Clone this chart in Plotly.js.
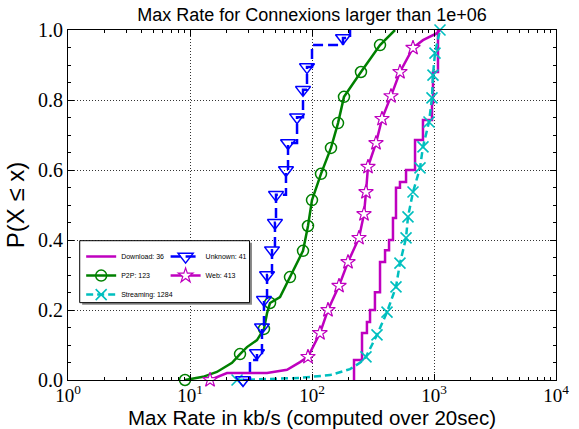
<!DOCTYPE html>
<html><head><meta charset="utf-8">
<script src="https://cdn.plot.ly/plotly-3.0.1.min.js"></script>
<style>html,body{margin:0;padding:0;background:#fff}#chart{width:579px;height:429px}</style>
</head><body><div id="chart"></div>
<script>
const titleText = 'Max Rate for Connexions larger than 1e+06';
const xTitle = 'Max Rate in kb/s (computed over 20sec)';
const yTitle = 'P(X ≤ x)';
const seriesNames = ['Download: 36', 'P2P: 123', 'Streaming: 1284', 'Unknown: 41', 'Web: 413'];
const xTickVals = [1, 10, 100, 1000, 10000];
const xTickText = ['10<sup>0</sup>', '10<sup>1</sup>', '10<sup>2</sup>', '10<sup>3</sup>', '10<sup>4</sup>'];
const yTickVals = [0, 0.2, 0.4, 0.6, 0.8, 1.0];
const yTickText = ['0.0', '0.2', '0.4', '0.6', '0.8', '1.0'];

// Download: step CDF, no markers
const downloadX = [221, 221, 257, 282, 299, 328, 361, 397, 428, 461, 488, 526, 590, 699, 812, 963, 981, 1078];
const downloadP = [0, 0.057, 0.134, 0.166, 0.20, 0.251, 0.337, 0.371, 0.40, 0.463, 0.549, 0.566, 0.60, 0.686, 0.743, 0.791, 0.88, 1.0];

// P2P
const p2pLineX = [12.8, 16.6, 22.1, 29.3, 35.4, 42.8, 54.7, 60.1, 75.4, 479];
const p2pLineP = [0.009, 0.023, 0.049, 0.094, 0.114, 0.191, 0.237, 0.266, 0.334, 1.0];
const p2pMarkX = [9.1, 25.7, 40.4, 45.3, 66.0, 84.4, 92.7, 100, 118.5, 143.1, 163.4, 182.9, 252, 361];
const p2pMarkP = [0, 0.074, 0.146, 0.22, 0.294, 0.369, 0.44, 0.514, 0.589, 0.663, 0.734, 0.809, 0.88, 0.957];

// Streaming
const streamLineX = [79.7, 140.5, 205, 247];
const streamLineP = [0.006, 0.014, 0.031, 0.049];
const streamMarkX = [24.3, 277, 341, 412, 488, 526, 590, 612, 673, 768, 812, 910, 963, 981, 1019, 1120];
const streamMarkP = [0, 0.066, 0.129, 0.194, 0.266, 0.334, 0.406, 0.466, 0.537, 0.606, 0.666, 0.737, 0.806, 0.871, 0.934, 1.0];

// Unknown: step CDF
const unknownLineX = [31.0, 100, 205];
const unknownLineP = [0.057, 0.957, 1.0];
const unknownMarkX = [27.2, 35.4, 38.9, 40.4, 42.8, 47.0, 49.7, 50.7, 61.2, 63.6, 75.4, 84.4, 91.0, 179.5];
const unknownMarkP = [0, 0.077, 0.151, 0.229, 0.30, 0.371, 0.449, 0.529, 0.60, 0.677, 0.751, 0.829, 0.894, 0.977];

// Web
const webLineX = [20.1, 42.8, 62.4, 79.7, 812, 1058, 1120];
const webLineP = [0.02, 0.02, 0.029, 0.051, 0.971, 0.991, 1.0];
const webMarkX = [14.6, 92.7, 116.3, 135.2, 166.5, 197.3, 242.7, 266.8, 277.1, 287.7, 334.6, 374.8, 444.1, 526, 672.9];
const webMarkP = [0, 0.066, 0.134, 0.20, 0.269, 0.337, 0.406, 0.474, 0.537, 0.609, 0.677, 0.746, 0.811, 0.88, 0.949];

function merge(lx, lp, mx, mp) {
  const pts = [];
  lx.forEach((x, i) => pts.push({x: x, p: lp[i], m: false}));
  mx.forEach((x, i) => pts.push({x: x, p: mp[i], m: true}));
  pts.sort((a, b) => (a.p - b.p) || (a.x - b.x));
  return pts;
}
const NONE = 'rgba(0,0,0,0)';
function markerTrace(name, pts, s, legendId) {
  return {
    type: 'scatter', mode: 'lines+markers', name: name, legend: legendId,
    x: pts.map(p => p.x), y: pts.map(p => p.p),
    line: {color: s.color, width: 2.5, dash: s.dash, shape: s.shape},
    marker: {
      symbol: s.symbol, size: s.size,
      color: pts.map(p => p.m ? s.fill : NONE),
      line: {color: pts.map(p => p.m ? s.color : NONE), width: s.mlw}
    },
    cliponaxis: false, hoverinfo: 'skip'
  };
}

const MAG = '#bf00bf', GRN = '#008000', CYN = '#00bfbf', BLU = '#0000ff';
const traces = [
  {type: 'scatter', mode: 'lines', name: seriesNames[0], legend: 'legend',
   x: downloadX, y: downloadP, line: {color: MAG, width: 2.5, shape: 'hv'}, hoverinfo: 'skip'},
  markerTrace(seriesNames[1], merge(p2pLineX, p2pLineP, p2pMarkX, p2pMarkP),
    {color: GRN, fill: GRN, dash: 'solid', shape: 'linear', symbol: 'circle-open', size: 11, mlw: 1.5}, 'legend'),
  markerTrace(seriesNames[2], merge(streamLineX, streamLineP, streamMarkX, streamMarkP),
    {color: CYN, fill: CYN, dash: '7px,4px', shape: 'linear', symbol: 'x-thin-open', size: 11, mlw: 1.6}, 'legend'),
  markerTrace(seriesNames[3], merge(unknownLineX, unknownLineP, unknownMarkX, unknownMarkP),
    {color: BLU, fill: BLU, dash: '10px,5px', shape: 'hv', symbol: 'triangle-down-open', size: 13, mlw: 1.5}, 'legend2'),
  markerTrace(seriesNames[4], merge(webLineX, webLineP, webMarkX, webMarkP),
    {color: MAG, fill: '#ffffff', dash: 'solid', shape: 'linear', symbol: 'star', size: 11, mlw: 1.2}, 'legend2')
];

const minorX = [];
for (let k = 0; k < 4; k++) for (let m = 2; m <= 9; m++) minorX.push(m * Math.pow(10, k));

const serif = 'Liberation Serif';
const sans = 'Liberation Sans';
const axisCommon = {
  showline: true, linecolor: 'black', linewidth: 1, mirror: 'ticks',
  ticks: 'inside', ticklen: 6, tickwidth: 1, tickcolor: 'black',
  showgrid: true, gridcolor: '#333', gridwidth: 1, griddash: '1px,2px',
  zeroline: false, automargin: false,
  tickfont: {family: serif, size: 20, color: 'black'}
};
const legendCommon = {
  bgcolor: 'rgba(0,0,0,0)', borderwidth: 0, xanchor: 'left', yanchor: 'top',
  font: {family: sans, size: 7, color: 'black'}, itemwidth: 30, tracegroupgap: 0
};
const layout = {
  width: 579, height: 429,
  margin: {l: 68, r: 23, t: 30, b: 49, pad: 0},
  paper_bgcolor: 'white', plot_bgcolor: 'white',
  title: {text: titleText, font: {family: sans, size: 18, color: 'black'},
          x: 0.5, xref: 'paper', xanchor: 'center', y: 0.966, yref: 'container', yanchor: 'middle'},
  xaxis: Object.assign({}, axisCommon, {
    type: 'log', range: [0, 4], tickmode: 'array', tickvals: xTickVals, ticktext: xTickText,
    tickfont: {family: serif, size: 19, color: 'black'}, ticklabelstandoff: -2,
    minor: {tickmode: 'array', tickvals: minorX, ticks: 'inside', ticklen: 3, tickwidth: 1, tickcolor: 'black', showgrid: false},
    title: {text: xTitle, font: {family: sans, size: 20.5, color: 'black'}, standoff: 6}
  }),
  yaxis: Object.assign({}, axisCommon, {
    range: [0, 1], tickmode: 'array', tickvals: yTickVals, ticktext: yTickText,
    minor: {dtick: 0.05, ticks: 'inside', ticklen: 3, tickwidth: 1, tickcolor: 'black', showgrid: false},
    title: {text: yTitle, font: {family: sans, size: 24, color: 'black'}, standoff: 6}
  }),
  legend: Object.assign({}, legendCommon, {x: 0.027, y: 0.394}),
  legend2: Object.assign({}, legendCommon, {x: 0.2, y: 0.394}),
  shapes: [
    {type: 'rect', xref: 'paper', yref: 'paper', x0: 0.029, x1: 0.377, y0: 0.215, y1: 0.392,
     line: {width: 0}, fillcolor: '#888', layer: 'above'},
    {type: 'rect', xref: 'paper', yref: 'paper', x0: 0.024, x1: 0.372, y0: 0.221, y1: 0.398,
     line: {color: 'black', width: 1}, fillcolor: 'white', layer: 'above'}
  ],
  showlegend: true
};
Plotly.newPlot('chart', traces, layout, {displayModeBar: false, staticPlot: true});
</script></body></html>
